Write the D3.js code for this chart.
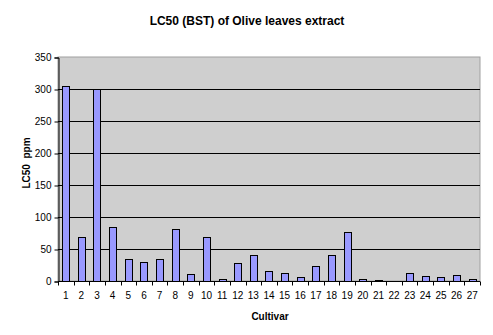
<!DOCTYPE html>
<html>
<head>
<meta charset="utf-8">
<script src="https://cdn.jsdelivr.net/npm/d3@7"></script>
<style>
  body { margin: 0; background: #fff; }
  text { font-family: "Liberation Sans", Arial, sans-serif; }
</style>
</head>
<body>
<div id="chart"></div>
<script>
const cultivars = d3.range(1, 28).map(String);
const lc50 = [305, 69, 300, 84, 35, 29, 34, 82, 11, 69, 3, 28, 40, 16, 12.5, 7, 23, 40, 77, 3, 1.5, 0, 12.5, 8, 7, 9, 3.5];
const yTicks = [0, 50, 100, 150, 200, 250, 300, 350];

const width = 493;
const height = 335;
const margin = { top: 57, right: 13, bottom: 54, left: 58 };

const svg = d3
  .select("#chart")
  .append("svg")
  .attr("width", width)
  .attr("height", height);

const x = d3
  .scaleBand()
  .domain(cultivars)
  .range([margin.left, width - margin.right])
  .paddingInner(0.55)
  .paddingOuter(0.27);

const y = d3
  .scaleLinear()
  .domain([0, 350])
  .range([height - margin.bottom, margin.top]);

// plot area
svg
  .append("rect")
  .attr("x", margin.left)
  .attr("y", margin.top)
  .attr("width", width - margin.left - margin.right)
  .attr("height", height - margin.top - margin.bottom)
  .attr("fill", "#cfcfcf")
  .attr("stroke", "#a0a0a0")
  .attr("stroke-width", 1);

// gridlines
svg
  .append("g")
  .selectAll("line")
  .data(yTicks.filter((d) => d > 0 && d < 350))
  .join("line")
  .attr("x1", margin.left)
  .attr("x2", width - margin.right)
  .attr("y1", (d) => Math.round(y(d)) + 0.5)
  .attr("y2", (d) => Math.round(y(d)) + 0.5)
  .attr("stroke", "#000")
  .attr("stroke-width", 1);

// bars
svg
  .append("g")
  .selectAll("rect")
  .data(lc50)
  .join("rect")
  .attr("x", (d, i) => Math.round(x(cultivars[i])) + 0.5)
  .attr("y", (d) => Math.round(y(d)) + 0.5)
  .attr("width", Math.round(x.bandwidth()))
  .attr("height", (d) => Math.round(y(0)) - Math.round(y(d)))
  .attr("fill", "#9999ff")
  .attr("stroke", "#000")
  .attr("stroke-width", 1)
  .attr("display", (d) => (d > 0 ? null : "none"));

// y axis
const yAxis = svg
  .append("g")
  .attr("transform", `translate(${margin.left + 0.5},0.5)`)
  .call(d3.axisLeft(y).tickValues(yTicks).tickSize(4).tickPadding(3));
yAxis.selectAll("text").attr("font-size", 10).attr("fill", "#000")
  .style("font-family", '"Liberation Sans", Arial, sans-serif');
yAxis.selectAll("line, path").attr("stroke", "#000");

// x axis with ticks between categories
const xAxis = svg
  .append("g")
  .attr("transform", `translate(0,${Math.round(y(0)) + 0.5})`);
xAxis
  .append("line")
  .attr("x1", margin.left)
  .attr("x2", width - margin.right)
  .attr("stroke", "#000");
xAxis
  .selectAll("line.tick")
  .data(d3.range(cultivars.length + 1))
  .join("line")
  .attr("class", "tick")
  .attr("x1", (i) => Math.round(margin.left + i * (width - margin.left - margin.right) / cultivars.length) + 0.5)
  .attr("x2", (i) => Math.round(margin.left + i * (width - margin.left - margin.right) / cultivars.length) + 0.5)
  .attr("y1", 0)
  .attr("y2", 4)
  .attr("stroke", "#000");
xAxis
  .selectAll("text")
  .data(cultivars)
  .join("text")
  .attr("x", (d) => x(d) + x.bandwidth() / 2)
  .attr("y", 17)
  .attr("text-anchor", "middle")
  .attr("font-size", 10)
  .text((d) => d);

// title and axis labels
svg
  .append("text")
  .attr("x", 247)
  .attr("y", 25)
  .attr("text-anchor", "middle")
  .attr("font-size", 12)
  .attr("font-weight", "bold")
  .text("LC50 (BST) of Olive leaves extract");

svg
  .append("text")
  .attr("x", 270)
  .attr("y", 320)
  .attr("text-anchor", "middle")
  .attr("font-size", 10)
  .attr("font-weight", "bold")
  .text("Cultivar");

svg
  .append("text")
  .attr("transform", "translate(30,163) rotate(-90)")
  .attr("text-anchor", "middle")
  .attr("font-size", 10)
  .attr("font-weight", "bold")
  .style("white-space", "pre")
  .text("LC50  ppm");
</script>
</body>
</html>
